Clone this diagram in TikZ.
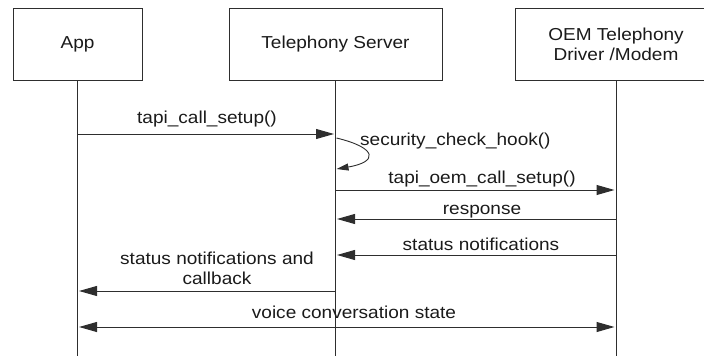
\documentclass[tikz,border=0pt]{standalone}
\usepackage{fontspec}
\setmainfont{Liberation Sans}[FakeStretch=1.1]
\usetikzlibrary{arrows.meta}
\definecolor{ln}{HTML}{2E2E2E}
\definecolor{tx}{HTML}{1A1A1A}
\begin{document}
\begin{tikzpicture}[x=1pt,y=-1pt,
  font=\fontsize{17.3}{20}\selectfont, text=tx,
  actor/.style={draw=ln, line width=1pt, minimum height=72pt, inner sep=0pt, align=center},
  life/.style={draw=ln, line width=1pt},
  msg/.style={draw=ln, line width=1pt, -{Triangle[length=18pt,width=10pt]}, shorten >=1.5pt},
  dmsg/.style={draw=ln, line width=1pt, {Triangle[length=18pt,width=10pt]}-{Triangle[length=18pt,width=10pt]}, shorten >=1.5pt, shorten <=1.5pt},
  selfmsg/.style={draw=ln, line width=0.9pt, -{Triangle[length=12pt,width=7pt]}},
  lbl/.style={anchor=base, inner sep=0pt, align=center}]
\path[use as bounding box] (0,0) rectangle (704,356);
\clip (0,0) rectangle (704,356);
% actors
\node[actor, minimum width=129pt] (app) at (77.5,44) {App};
\node[actor, minimum width=213pt] (srv) at (335.5,44) {Telephony Server};
\node[actor, minimum width=202pt] (oem) at (616,44) {OEM Telephony\\Driver /Modem};
% lifeline ends
\coordinate (append) at (77.5,358);
\coordinate (srvend) at (335.5,358);
\coordinate (oemend) at (616,358);
\draw[life] (app.south) -- (append);
\draw[life] (srv.south) -- (srvend);
\draw[life] (oem.south) -- (oemend);
% message points
\coordinate (a1) at (77.5,134);  \coordinate (s1) at (335.5,134);
\coordinate (l1) at (336.5,138); \coordinate (l2) at (336.5,169);
\coordinate (s3) at (335.5,190); \coordinate (o3) at (616,190);
\coordinate (s4) at (335.5,219); \coordinate (o4) at (616,219);
\coordinate (s5) at (335.5,255); \coordinate (o5) at (616,255);
\coordinate (s6) at (335.5,291); \coordinate (a6) at (77.5,291);
\coordinate (a7) at (77.5,327);  \coordinate (o7) at (616,327);
% messages
\draw[msg] (a1) -- (s1);
\node[lbl] (t1) at (207,123) {tapi\_call\_setup()};
\draw[selfmsg] (l1) .. controls (378,148) and (378,162) .. (l2);
\node[lbl, anchor=base west] (t2) at (360,145) {security\_check\_hook()};
\draw[msg] (s3) -- (o3);
\node[lbl] (t3) at (482,183) {tapi\_oem\_call\_setup()};
\draw[msg] (o4) -- (s4);
\node[lbl] (t4) at (482,214) {response};
\draw[msg] (o5) -- (s5);
\node[lbl] (t5) at (481,250) {status notifications};
\draw[msg] (s6) -- (a6);
\node[lbl, anchor=center] (t6) at (217,268) {status notifications and\\callback};
\draw[dmsg] (a7) -- (o7);
\node[lbl] (t7) at (354,318) {voice conversation state};
\end{tikzpicture}
\end{document}
